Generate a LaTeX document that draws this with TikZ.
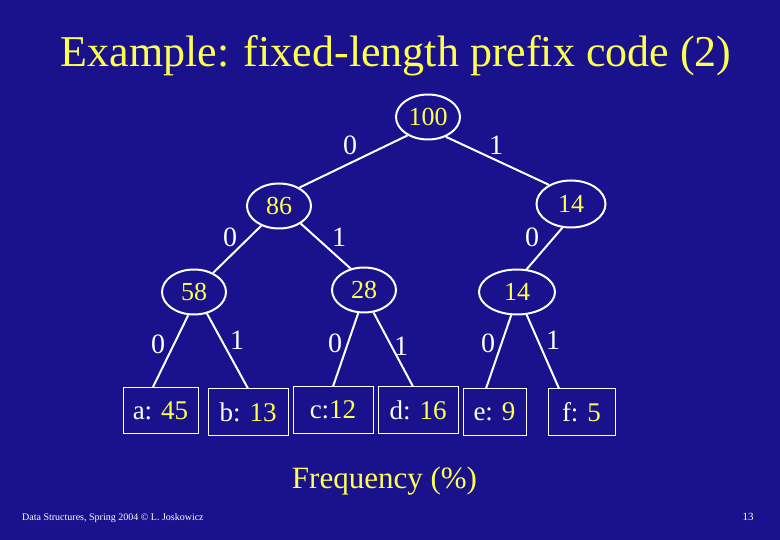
\documentclass[tikz,border=0pt]{standalone}
\usepackage{fontspec}
\setmainfont{Liberation Serif}
\usetikzlibrary{shapes.geometric}
\definecolor{slidebg}{RGB}{25,18,140}
\definecolor{slideyel}{RGB}{255,255,80}
\tikzset{
  inode/.style={ellipse,draw=white,line width=2pt,text=slideyel,inner sep=0pt,
    minimum width=64pt,minimum height=45pt,font=\fontsize{26}{26}\selectfont},
  leaf/.style={rectangle,draw=white,line width=1pt,text=white,inner sep=0pt,
    minimum height=46pt,font=\fontsize{27}{27}\selectfont},
  branch/.style={white,line width=2pt},
  bit/.style={text=white,inner sep=0pt,font=\fontsize{28}{28}\selectfont},
}
\newcommand{\fq}[1]{\textcolor{slideyel}{#1}}
\begin{document}
\begin{tikzpicture}[x=1pt,y=-1pt]
    \fill[slidebg] (0,0) rectangle (780,540);
    \useasboundingbox (0,0) rectangle (780,540);
    % ---------------- title ----------------
    \node[anchor=base,text=slideyel,inner sep=0pt,font=\fontsize{44}{44}\selectfont]
      (title) at (396,67) {Example: fixed-length prefix code (2)};
    % ---------------- inner nodes ----------------
    \node[inode] (n100) at (428,117) {100};
    \node[inode] (n86) at (279,206) {86};
    \node[inode,minimum width=69pt,minimum height=47pt] (n14) at (571,204) {14};
    \node[inode] (n58) at (194,292) {58};
    \node[inode] (n28) at (364,290) {28};
    \node[inode,minimum width=76pt] (n14b) at (517,292) {14};
    % ---------------- leaves ----------------
    \node[leaf,minimum width=75pt] (la) at (160.5,410.5) {a: \fq{45}};
    \node[leaf,minimum width=80pt] (lb) at (248,412) {b: \fq{13}};
    \node[leaf,minimum width=80pt] (lc) at (333,410) {c:\fq{12}};
    \node[leaf,minimum width=80pt] (ld) at (418,410) {d: \fq{16}};
    \node[leaf,minimum width=63pt] (le) at (494.5,412) {e: \fq{9}};
    \node[leaf,minimum width=67pt] (lf) at (581.5,412) {f: \fq{5}};
    % ---------------- branches ----------------
    \draw[branch] (n100.222) -- (n86.42);
    \draw[branch] (n100.312) -- (n14.139);
    \draw[branch] (n86.228) -- (n58.45);
    \draw[branch] (n86.321) -- (n28.122);
    \draw[branch] (n14.250) -- (n14b.67);
    \draw[branch] (n58.256) -- ([xshift=-7.5pt]la.north);
    \draw[branch] (n58.301) -- (lb.north);
    \draw[branch] (n28.256) -- (lc.north);
    \draw[branch] (n28.293) -- ([xshift=-5pt]ld.north);
    \draw[branch] (n14b.256) -- ([xshift=-8.5pt]le.north);
    \draw[branch] (n14b.293) -- ([xshift=-22.5pt]lf.north);
    % ---------------- bit labels ----------------
    \node[bit] (b1) at (350,145) {0};
    \node[bit] (b2) at (496,145) {1};
    \node[bit] (b3) at (230,237) {0};
    \node[bit] (b4) at (339,237) {1};
    \node[bit] (b5) at (532,237) {0};
    \node[bit] (b6) at (158,344) {0};
    \node[bit] (b7) at (237,340) {1};
    \node[bit] (b8) at (335,343) {0};
    \node[bit] (b9) at (401,346) {1};
    \node[bit] (b10) at (488,343) {0};
    \node[bit] (b11) at (553,340) {1};
    % ---------------- captions ----------------
    \node[anchor=base,text=slideyel,inner sep=0pt,font=\fontsize{31}{31}\selectfont]
      (freq) at (384.5,488) {Frequency (\%)};
    \node[anchor=base west,text=white,inner sep=0pt,font=\fontsize{10}{10}\selectfont]
      (foot) at (22,520) {Data Structures, Spring 2004 \textcopyright{} L. Joskowicz};
    \node[anchor=base,text=white,inner sep=0pt,font=\fontsize{11}{11}\selectfont]
      (page) at (748,520) {13};
  \end{tikzpicture}
\end{document}
